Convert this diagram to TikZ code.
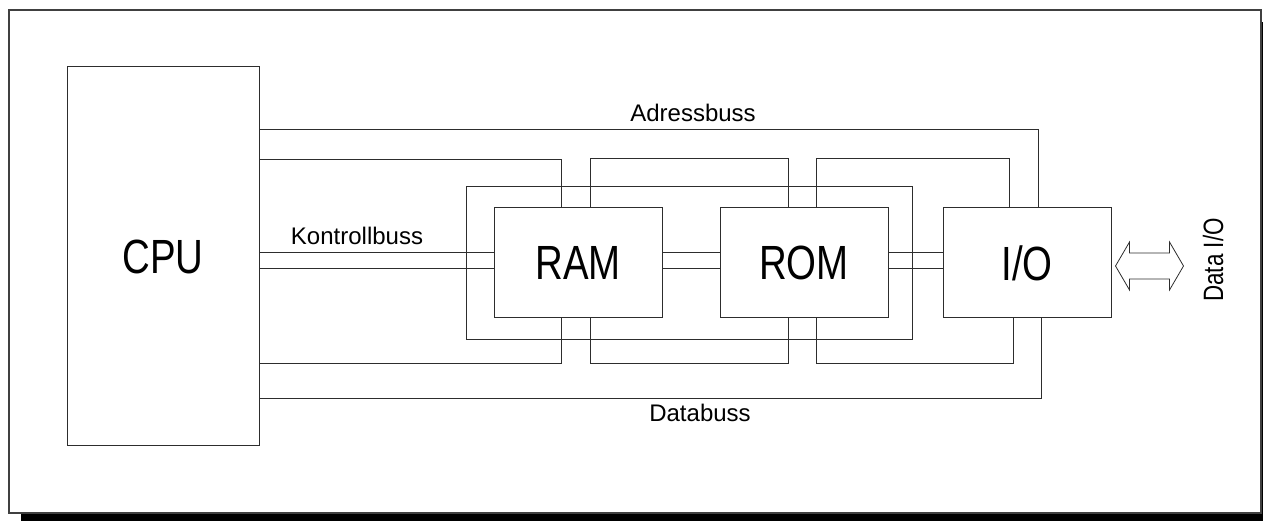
\documentclass[tikz,border=0pt]{standalone}
\usepackage{fontspec}
\setmainfont{Liberation Sans}
\newfontfamily\narrowsf[FakeStretch=0.8]{Liberation Sans}
\usetikzlibrary{calc}
\definecolor{busC}{RGB}{45,45,45}
\tikzset{
  unit/.style={draw=busC, line width=1pt, inner sep=0pt, minimum width=168pt,
    minimum height=110pt, font=\narrowsf\fontsize{48}{50}\selectfont},
  bus/.style={draw=busC, line width=1pt},
  buslabel/.style={inner sep=0pt, font=\fontsize{24}{26}\selectfont}
}
\begin{document}
\begin{tikzpicture}[x=1pt, y=1pt]
\useasboundingbox (0,0) rectangle (1263,521);
% ===== frame with drop shadow =====
\fill[black] (21,0) rectangle (1263,8);
\fill[black] (1261,8) rectangle (1263,499);
\draw[line width=1.5pt, black!75] (9,8) rectangle (1261,511);
% ===== units =====
\node[unit, minimum width=192pt, minimum height=379pt] (cpu) at (163,264.5) {CPU};
\node[unit] (ram) at (578,258) {RAM};
\node[unit] (rom) at (804,258) {ROM};
\node[unit] (io) at (1027,258) {I/O};
% ===== address bus (top) =====
\draw[bus] ([yshift=-63pt]cpu.north east) -| ([xshift=96pt]io.north west);
\draw[bus] ([yshift=-93pt]cpu.north east) -| ([xshift=68pt]ram.north west);
\draw[bus] ([xshift=97pt]ram.north west) -- ++(0,49) -| ([xshift=69pt]rom.north west);
\draw[bus] ([xshift=97pt]rom.north west) -- ++(0,49) -| ([xshift=67pt]io.north west);
% ===== data bus (bottom) =====
\draw[bus] ([yshift=83pt]cpu.south east) -| ([xshift=68pt]ram.south west);
\draw[bus] ([xshift=97pt]ram.south west) -- ++(0,-45) -| ([xshift=69pt]rom.south west);
\draw[bus] ([xshift=97pt]rom.south west) -- ++(0,-45) -| ([xshift=71pt]io.south west);
\draw[bus] ([yshift=48pt]cpu.south east) -| ([xshift=99pt]io.south west);
% ===== control bus =====
\foreach \src/\dst in {cpu/ram, ram/rom, rom/io}
  \foreach \dy in {10,-6}
    \draw[bus] ($(\src.east |- \dst.west)+(0,\dy)$) -- ($(\dst.west)+(0,\dy)$);
\draw[bus] ([shift={(-27,21)}]ram.north west) rectangle ([shift={(24,-21)}]rom.south east);
% ===== labels =====
\node[buslabel] (adrlbl) at (693,408) {Adressbuss};
\node[buslabel] (ctrllbl) at (357,285) {Kontrollbuss};
\node[buslabel] (datlbl) at (700,108) {Databuss};
% data in/out arrow
\draw[line width=0.8pt, busC] ([shift={(4,-3)}]io.east) -- ++(14,24) -- ++(0,-11)
  -- ++(40,0) -- ++(0,11) -- ++(14,-24) -- ++(-14,-24) -- ++(0,11) -- ++(-40,0)
  -- ++(0,-11) -- cycle;
\node[rotate=90, inner sep=0pt, font=\narrowsf\fontsize{28}{30}\selectfont] (dataio) at (1213,261) {Data I/O};
\end{tikzpicture}
\end{document}
